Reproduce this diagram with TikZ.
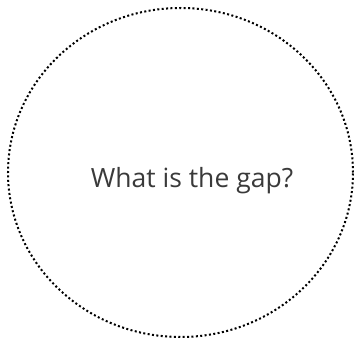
\documentclass[tikz,border=0pt]{standalone}
\usepackage{fontspec}
\setmainfont{Open Sans}
\usepackage{tikz}
\usetikzlibrary{shapes.geometric}
\definecolor{GapText}{RGB}{58,58,58}

\begin{document}
\begin{tikzpicture}[x=1pt, y=-1pt]
		\useasboundingbox (0,0) rectangle (354,345);
		% dotted outline
		\node[draw, ellipse, minimum width=345pt, minimum height=329pt, inner sep=0pt,
			line width=2pt, dash pattern=on 2pt off 2.4pt] (gap) at (180.5,172.5) {};
		\node[anchor=base, text=GapText, font=\fontsize{26.5}{30}\selectfont, inner sep=0pt] (question) at (192,187) {What is the gap?};
	\end{tikzpicture}
\end{document}
